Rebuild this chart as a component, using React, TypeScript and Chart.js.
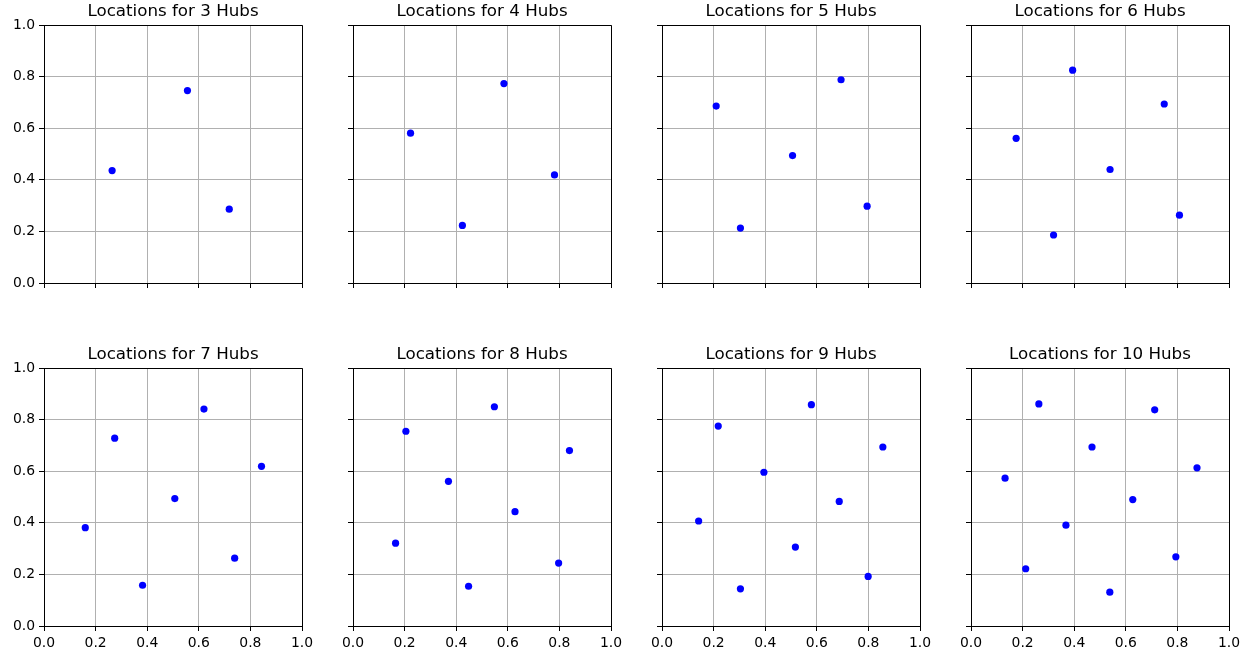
import React, { useEffect, useRef } from "react";
import { Chart, registerables } from "chart.js";

Chart.register(...registerables);

// ---------- data ----------
const hubCounts = [3, 4, 5, 6, 7, 8, 9, 10];

const hubs3X = [0.556, 0.264, 0.718];
const hubs3Y = [0.746, 0.436, 0.286];

const hubs4X = [0.585, 0.223, 0.781, 0.424];
const hubs4Y = [0.773, 0.581, 0.419, 0.223];

const hubs5X = [0.694, 0.21, 0.506, 0.795, 0.304];
const hubs5Y = [0.788, 0.686, 0.494, 0.298, 0.213];

const hubs6X = [0.394, 0.749, 0.175, 0.539, 0.808, 0.32];
const hubs6Y = [0.825, 0.694, 0.561, 0.44, 0.263, 0.186];

const hubs7X = [0.62, 0.274, 0.843, 0.507, 0.16, 0.739, 0.382];
const hubs7Y = [0.841, 0.728, 0.619, 0.494, 0.381, 0.263, 0.158];

const hubs8X = [0.548, 0.205, 0.839, 0.37, 0.628, 0.165, 0.797, 0.448];
const hubs8Y = [0.85, 0.755, 0.68, 0.561, 0.443, 0.321, 0.244, 0.154];

const hubs9X = [0.579, 0.218, 0.856, 0.395, 0.687, 0.142, 0.517, 0.799, 0.304];
const hubs9Y = [0.858, 0.775, 0.694, 0.596, 0.483, 0.407, 0.306, 0.192, 0.144];

const hubs10X = [0.263, 0.712, 0.469, 0.876, 0.132, 0.627, 0.368, 0.794, 0.212, 0.538];
const hubs10Y = [0.861, 0.838, 0.694, 0.613, 0.573, 0.49, 0.391, 0.268, 0.222, 0.131];

const tickValues = [0, 0.2, 0.4, 0.6, 0.8, 1.0];
const tickLabels = ["0.0", "0.2", "0.4", "0.6", "0.8", "1.0"];

const panelXs = [hubs3X, hubs4X, hubs5X, hubs6X, hubs7X, hubs8X, hubs9X, hubs10X];
const panelYs = [hubs3Y, hubs4Y, hubs5Y, hubs6Y, hubs7Y, hubs8Y, hubs9Y, hubs10Y];

// ---------- layout ----------
const L = 44; // room for y tick labels
const T = 26; // room for title
const R = 18; // right padding
const B = 26; // room for x tick labels
const PW = 258;
const PH = 258;
const colLeft = [44, 353, 662, 971];
const rowTop = [25, 368];

const FONT = "'DejaVu Sans', 'Liberation Sans', sans-serif";

const align = (p: number) => Math.round(p - 0.5) + 0.5;

const framePlugin = {
  id: "frame",
  afterDraw(chart: any) {
    const xs = chart.scales.x;
    const ys = chart.scales.y;
    const x0 = align(xs.getPixelForValue(0));
    const x1 = align(xs.getPixelForValue(1));
    const y0 = align(ys.getPixelForValue(0));
    const y1 = align(ys.getPixelForValue(1));
    const ctx = chart.ctx;
    ctx.save();
    ctx.strokeStyle = "#000";
    ctx.lineWidth = 1;
    ctx.beginPath();
    ctx.moveTo(x0, y1);
    ctx.lineTo(x1, y1);
    ctx.lineTo(x1, y0);
    ctx.stroke();
    ctx.restore();
  },
};

function Panel({ index }: { index: number }) {
  const ref = useRef<HTMLCanvasElement>(null);
  const col = index % 4;
  const row = Math.floor(index / 4);

  useEffect(() => {
    if (!ref.current) return;
    const showX = row === 1;
    const showY = col === 0;
    const xs = panelXs[index];
    const ys = panelYs[index];
    const tickFont = { family: FONT, size: 13.9 };
    const grid = {
      color: "#b0b0b0",
      lineWidth: 1,
      tickColor: "#000",
      tickLength: 5,
      tickWidth: 1,
      drawTicks: true,
    };
    const chart = new Chart(ref.current, {
      type: "scatter",
      data: {
        datasets: [
          {
            data: xs.map((x, i) => ({ x, y: ys[i] })),
            backgroundColor: "#0000ff",
            borderColor: "#0000ff",
            borderWidth: 0,
            pointRadius: 3.6,
            pointHoverRadius: 3.6,
          },
        ],
      },
      options: {
        responsive: false,
        animation: false,
        devicePixelRatio: 1,
        events: [],
        layout: { padding: { left: 0, top: 0, right: R, bottom: 0 } },
        plugins: {
          legend: { display: false },
          tooltip: { enabled: false },
          title: {
            display: true,
            text: `Locations for ${hubCounts[index]} Hubs`,
            fullSize: false,
            color: "#000",
            font: { family: FONT, size: 16.7, weight: "normal", lineHeight: 1.2 },
            padding: { top: 3, bottom: 3 },
          },
        },
        scales: {
          x: {
            type: "linear",
            min: 0,
            max: 1,
            afterBuildTicks: (s: any) => {
              s.ticks = tickValues.map((v) => ({ value: v }));
            },
            afterFit: (s: any) => {
              s.height = B;
            },
            ticks: {
              display: showX,
              callback: (_v: any, i: number) => tickLabels[i],
              color: "#000",
              font: tickFont,
              padding: 4,
              maxRotation: 0,
              minRotation: 0,
              autoSkip: false,
            },
            grid,
            border: { display: true, color: "#000", width: 1 },
          },
          y: {
            type: "linear",
            min: 0,
            max: 1,
            afterBuildTicks: (s: any) => {
              s.ticks = tickValues.map((v) => ({ value: v }));
            },
            afterFit: (s: any) => {
              s.width = L;
            },
            ticks: {
              display: showY,
              callback: (_v: any, i: number) => tickLabels[i],
              color: "#000",
              font: tickFont,
              padding: 4,
              autoSkip: false,
            },
            grid,
            border: { display: true, color: "#000", width: 1 },
          },
        },
      } as any,
      plugins: [framePlugin],
    });
    return () => chart.destroy();
  }, [index, col, row]);

  return (
    <canvas
      ref={ref}
      width={L + PW + R}
      height={T + PH + B}
      style={{
        position: "absolute",
        left: colLeft[col] - L,
        top: rowTop[row] - T,
        width: L + PW + R,
        height: T + PH + B,
      }}
    />
  );
}

export default function App() {
  return (
    <div
      style={{
        position: "absolute",
        left: 0,
        top: 0,
        width: 1242,
        height: 649,
        background: "#fff",
        overflow: "hidden",
      }}
    >
      {hubCounts.map((_, i) => (
        <Panel key={i} index={i} />
      ))}
    </div>
  );
}
